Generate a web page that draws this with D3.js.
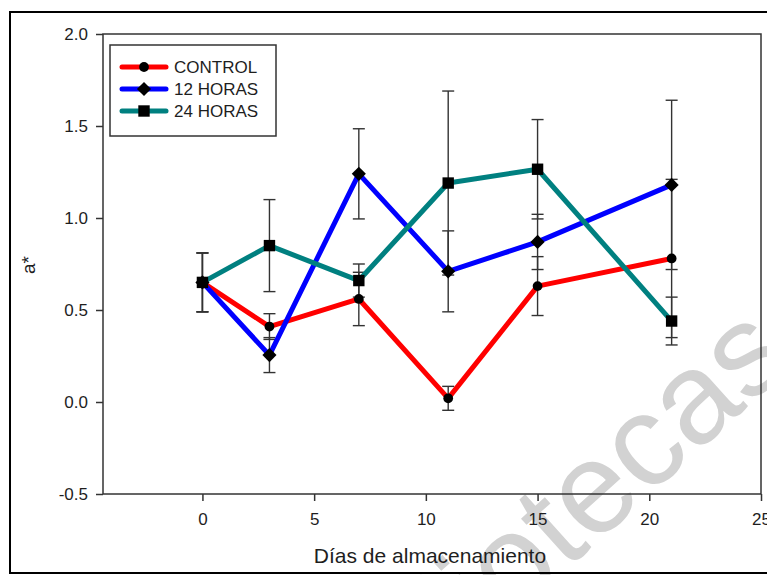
<!DOCTYPE html>
<html>
<head>
<meta charset="utf-8">
<script src="https://cdn.jsdelivr.net/npm/d3@7"></script>
<style>
  html, body { margin: 0; padding: 0; background: #fff; }
  svg { display: block; font-family: "Liberation Sans", Arial, sans-serif; }
</style>
</head>
<body>
<svg id="chart" width="767" height="575"></svg>
<script>
// Storage days and a* colour values (mean and standard deviation)
const days = [0, 3, 7, 11, 15, 21];
const seriesNames = ["CONTROL", "12 HORAS", "24 HORAS"];
const controlMean = [0.65, 0.41, 0.56, 0.02, 0.63, 0.78];
const controlErr  = [0.16, 0.07, 0.145, 0.065, 0.16, 0.43];
const h12Mean     = [0.65, 0.255, 1.24, 0.71, 0.87, 1.18];
const h12Err      = [0.16, 0.095, 0.245, 0.22, 0.15, 0.46];
const h24Mean     = [0.65, 0.85, 0.66, 1.19, 1.265, 0.44];
const h24Err      = [0.16, 0.25, 0.09, 0.5, 0.27, 0.13];
const xTicks = [0, 5, 10, 15, 20, 25];
const yTicks = [-0.5, 0.0, 0.5, 1.0, 1.5, 2.0];

const series = [
  { name: seriesNames[0], mean: controlMean, err: controlErr, color: "#ff0000", marker: "circle" },
  { name: seriesNames[1], mean: h12Mean, err: h12Err, color: "#0000ff", marker: "diamond" },
  { name: seriesNames[2], mean: h24Mean, err: h24Err, color: "#008080", marker: "square" }
];

const svg = d3.select("#chart");
const plot = { left: 103, top: 34, right: 761, bottom: 494 };

const x = d3.scaleLinear().domain([-4.45, 25]).range([plot.left, plot.right]);
const y = d3.scaleLinear().domain([-0.5, 2.0]).range([plot.bottom, plot.top]);

// Faint watermark behind everything
svg.append("text")
  .attr("transform", "translate(340,774) rotate(-42)")
  .attr("font-size", 130)
  .attr("fill", "#d2d2d2")
  .text("bibliotecas");

// Outer figure frame
svg.append("rect")
  .attr("x", 10).attr("y", 12)
  .attr("width", 800).attr("height", 561)
  .attr("fill", "none").attr("stroke", "#000").attr("stroke-width", 2);

// Plot frame
svg.append("rect")
  .attr("x", plot.left).attr("y", plot.top)
  .attr("width", plot.right - plot.left).attr("height", plot.bottom - plot.top)
  .attr("fill", "none").attr("stroke", "#333").attr("stroke-width", 1.5);

const textColor = "#1e1e1e";

// Axes
const yAxis = svg.append("g")
  .attr("transform", `translate(${plot.left},0)`)
  .call(d3.axisLeft(y).tickValues(yTicks).tickFormat(d3.format(".1f")).tickSize(7).tickPadding(8));
const xAxis = svg.append("g")
  .attr("transform", `translate(0,${plot.bottom})`)
  .call(d3.axisBottom(x).tickValues(xTicks).tickFormat(d3.format("d")).tickSize(7).tickPadding(12));

[xAxis, yAxis].forEach(g => {
  g.select(".domain").remove();
  g.selectAll(".tick line").attr("stroke", "#333").attr("stroke-width", 1.5);
  g.selectAll(".tick text")
    .attr("font-size", 17)
    .attr("fill", textColor)
    .attr("font-family", "'Liberation Sans', Arial, sans-serif");
});
yAxis.selectAll(".tick text").attr("text-anchor", "end").text(d => d === -0.5 ? "-0.5" : d3.format(".1f")(d));

// Axis titles
svg.append("text")
  .attr("x", 430).attr("y", 563)
  .attr("text-anchor", "middle")
  .attr("font-size", 21)
  .attr("fill", textColor)
  .text("Días de almacenamiento");

svg.append("text")
  .attr("transform", "translate(35,265) rotate(-90)")
  .attr("text-anchor", "middle")
  .attr("font-size", 19)
  .attr("fill", textColor)
  .text("a*");

// Marker shapes
const symbolFor = {
  circle: d3.symbol().type(d3.symbolCircle).size(75),
  diamond: d3.symbol().type(d3.symbolSquare).size(100),
  square: d3.symbol().type(d3.symbolSquare).size(130)
};
function drawMarker(g, type, cx, cy) {
  const p = g.append("path")
    .attr("d", symbolFor[type]())
    .attr("fill", "#000");
  if (type === "diamond") p.attr("transform", `translate(${cx},${cy}) rotate(45)`);
  else p.attr("transform", `translate(${cx},${cy})`);
}

// Error bars
const errG = svg.append("g").attr("stroke", "#333").attr("stroke-width", 1.4).attr("fill", "none");
const capHalf = 6;
series.forEach(s => {
  days.forEach((d, i) => {
    const cx = x(d);
    const y1 = y(s.mean[i] + s.err[i]);
    const y0 = y(s.mean[i] - s.err[i]);
    errG.append("line").attr("x1", cx).attr("x2", cx).attr("y1", y1).attr("y2", y0);
    errG.append("line").attr("x1", cx - capHalf).attr("x2", cx + capHalf).attr("y1", y1).attr("y2", y1);
    errG.append("line").attr("x1", cx - capHalf).attr("x2", cx + capHalf).attr("y1", y0).attr("y2", y0);
  });
});

// Series lines and markers
const line = d3.line().x((d, i) => x(days[i])).y(d => y(d));
series.forEach(s => {
  svg.append("path")
    .datum(s.mean)
    .attr("d", line)
    .attr("fill", "none")
    .attr("stroke", s.color)
    .attr("stroke-width", 5)
    .attr("stroke-linejoin", "round");
});
series.forEach(s => {
  const g = svg.append("g");
  days.forEach((d, i) => drawMarker(g, s.marker, x(d), y(s.mean[i])));
});

// Legend
const legend = svg.append("g");
legend.append("rect")
  .attr("x", 110).attr("y", 45)
  .attr("width", 166).attr("height", 91)
  .attr("fill", "#fff").attr("stroke", "#333").attr("stroke-width", 1.5);
series.forEach((s, i) => {
  const ly = 67 + i * 22;
  legend.append("line")
    .attr("x1", 122).attr("x2", 166).attr("y1", ly).attr("y2", ly)
    .attr("stroke", s.color).attr("stroke-width", 5).attr("stroke-linecap", "round");
  drawMarker(legend, s.marker, 144, ly);
  legend.append("text")
    .attr("x", 174).attr("y", ly).attr("dy", "0.36em")
    .attr("font-size", 17)
    .attr("fill", textColor)
    .text(s.name);
});
</script>
</body>
</html>
